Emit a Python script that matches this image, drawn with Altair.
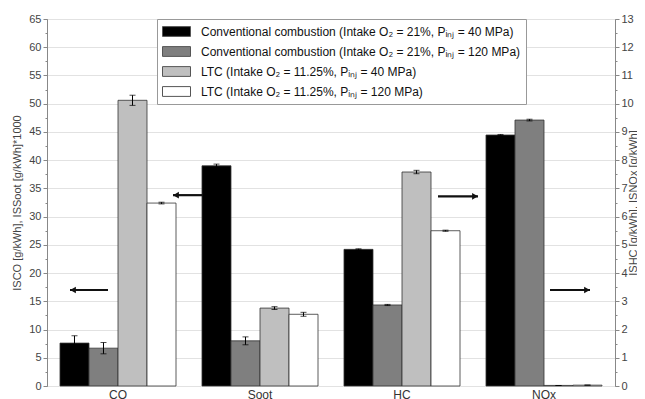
import altair as alt
import pandas as pd

categories = ["CO", "Soot", "HC", "NOx"]
series = [
    "Conventional combustion (Intake O₂ = 21%, Pᵢₙⱼ = 40 MPa)",
    "Conventional combustion (Intake O₂ = 21%, Pᵢₙⱼ = 120 MPa)",
    "LTC (Intake O₂ = 11.25%, Pᵢₙⱼ = 40 MPa)",
    "LTC (Intake O₂ = 11.25%, Pᵢₙⱼ = 120 MPa)",
]
colors = ["#000000", "#7f7f7f", "#bfbfbf", "#ffffff"]

# left axis units
co = [7.6, 6.7, 50.6, 32.4]
co_err = [1.3, 1.0, 0.9, 0.15]
soot = [39.0, 8.0, 13.8, 12.7]
soot_err = [0.3, 0.7, 0.25, 0.35]
# right axis units
hc = [4.84, 2.87, 7.58, 5.50]
hc_err = [0.02, 0.02, 0.06, 0.02]
nox = [8.89, 9.42, 0.02, 0.03]
nox_err = [0.02, 0.03, 0.0, 0.0]

# direction arrows (left-axis units)
arrow_cat = ["CO", "Soot", "HC", "NOx"]
arrow_val = [17.0, 33.8, 33.6, 17.0]
arrow_dir = ["left", "left", "right", "right"]


def frame(cats, vals, errs):
    rows = []
    for c, v, e in zip(cats, vals, errs):
        for s, vv, ee in zip(series, v, e):
            rows.append({"cat": c, "series": s, "val": vv, "lo": vv - ee, "hi": vv + ee})
    return pd.DataFrame(rows)


df_left = frame(["CO", "Soot"], [co, soot], [co_err, soot_err])
df_right = frame(["HC", "NOx"], [hc, nox], [hc_err, nox_err])

x = alt.X("cat:N", scale=alt.Scale(domain=categories, paddingInner=0.183, paddingOuter=0.0915),
          axis=alt.Axis(title=None, labelAngle=0, ticks=False, domain=False, labelFontSize=12,
                        labelColor="#333", labelPadding=3))
xo = alt.XOffset("series:N", scale=alt.Scale(domain=series, paddingInner=0, paddingOuter=0))
fill = alt.Fill("series:N", scale=alt.Scale(domain=series, range=colors),
                legend=alt.Legend(title=None, orient="none", legendX=110, legendY=0,
                                  labelLimit=0, labelFontSize=12, labelColor="#111",
                                  symbolType="M-2,-0.7H2V0.7H-2Z", symbolSize=196,
                                  symbolOffset=7,
                                  symbolStrokeColor="#555", symbolStrokeWidth=1,
                                  symbolOpacity=1, rowPadding=5, padding=5,
                                  strokeColor="#999", fillColor="white", labelOffset=17))

def yaxis_left():
    return alt.Axis(title="ISCO [g/kWh], ISSoot [g/kWh]*1000",
                    values=[i * 2.5 for i in range(27)],
                    labelExpr="datum.value % 5 == 0 ? format(datum.value, 'd') : ''",
                    gridOpacity={"condition": {"test": "datum.value % 5 != 0", "value": 0}, "value": 1},
                    tickSize={"condition": {"test": "datum.value % 5 != 0", "value": 2}, "value": 4},
                    titleFontSize=11, titleFontWeight="normal", titleColor="#444", titlePadding=6)

def yaxis_right():
    return alt.Axis(title="ISHC [g/kWh], ISNOx [g/kWh]", orient="right", grid=False,
                    values=[i * 0.5 for i in range(27)],
                    labelExpr="datum.value % 1 == 0 ? format(datum.value, 'd') : ''",
                    tickSize={"condition": {"test": "datum.value % 1 != 0", "value": 2}, "value": 4},
                    titleAngle=270, titleFontSize=11, titleFontWeight="normal", titleColor="#444",
                    titlePadding=5)

ls = alt.Scale(domain=[0, 65], nice=False)
rs = alt.Scale(domain=[0, 13], nice=False)

def group(df, scale, axis_fn, with_legend):
    base = alt.Chart(df)
    bars = base.mark_bar(stroke="#333", strokeWidth=0.8).encode(
        x=x, xOffset=xo, y=alt.Y("val:Q", scale=scale, axis=axis_fn()),
        fill=fill if with_legend else alt.Fill("series:N", scale=alt.Scale(domain=series, range=colors), legend=None))
    err = base.mark_rule(color="#000", strokeWidth=1).encode(
        x=x, xOffset=xo, y=alt.Y("lo:Q", scale=scale, axis=axis_fn()), y2="hi:Q")
    cap_hi = base.mark_tick(color="#000", size=6, thickness=1).encode(
        x=x, xOffset=xo, y=alt.Y("hi:Q", scale=scale, axis=axis_fn()))
    cap_lo = base.mark_tick(color="#000", size=6, thickness=1).encode(
        x=x, xOffset=xo, y=alt.Y("lo:Q", scale=scale, axis=axis_fn()))
    return [bars, err, cap_hi, cap_lo]

left_layers = group(df_left, ls, yaxis_left, True)

offsets = {"CO": (-48, -10), "Soot": (-87, -57), "HC": (36, 76), "NOx": (6, 46)}
for c, v, d in zip(arrow_cat, arrow_val, arrow_dir):
    a0, a1 = offsets[c]
    adf = pd.DataFrame({"cat": [c], "val": [v]})
    line = alt.Chart(adf).mark_rule(color="#111", strokeWidth=2.2, xOffset=a0, x2Offset=a1).encode(
        x=x, x2="cat:N", y=alt.Y("val:Q", scale=ls, axis=yaxis_left()))
    head_off = a0 + 3 if d == "left" else a1 - 3
    head = alt.Chart(adf).mark_point(shape="triangle-left" if d == "left" else "triangle-right",
                                     filled=True, color="#111", size=45, opacity=1,
                                     xOffset=head_off).encode(
        x=x, y=alt.Y("val:Q", scale=ls, axis=yaxis_left()))
    left_layers += [line, head]

left = alt.layer(*left_layers)
right = alt.layer(*group(df_right, rs, yaxis_right, False))

chart = alt.layer(left, right).resolve_scale(y="independent").properties(
    width=568, height=367, autosize=alt.AutoSizeParams(type="none"),
    padding={"left": 39, "top": 11, "right": 22, "bottom": 13},
).configure_view(stroke="#888", strokeWidth=1).configure_axis(
    domainColor="#888", tickColor="#888", labelColor="#444", labelFontSize=11,
    gridColor="#e2e2e2", labelFont="Liberation Sans", titleFont="Liberation Sans",
).configure_legend(labelFont="Liberation Sans")

chart.save("out.html", embed_options={"renderer": "svg", "actions": False})
